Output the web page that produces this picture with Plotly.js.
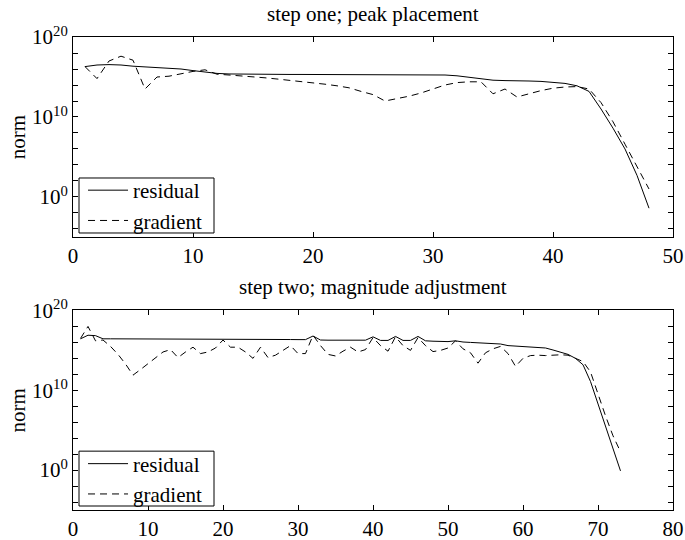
<!DOCTYPE html>
<html>
<head>
<meta charset="utf-8">
<script src="https://cdn.plot.ly/plotly-3.0.1.min.js"></script>
<style>html,body{margin:0;padding:0;background:#fff;}</style>
</head>
<body>
<div id="chart" style="width:685px;height:540px;"></div>
<script>
// ---- data (values are log10 of the norm) ----
const stepOneResidualLog10 = [16.3, 16.5, 16.55, 16.5, 16.35, 16.25, 16.2, 16.1, 16.0, 15.8,
  15.6, 15.45, 15.38, 15.35, 15.33, 15.32, 15.32, 15.32, 15.32, 15.32,
  15.32, 15.32, 15.32, 15.32, 15.32, 15.32, 15.32, 15.32, 15.3, 15.28,
  15.25, 15.15, 14.95, 14.75, 14.6, 14.55, 14.55, 14.5, 14.45, 14.35,
  14.2, 13.9, 13.2, 11.0, 8.6, 6.0, 2.7, -1.4];
const stepOneGradientLog10 = [16.3, 14.8, 17.0, 17.6, 17.1, 13.5, 15.0, 15.1, 15.4, 15.7,
  15.9, 15.35, 15.25, 15.15, 15.05, 14.9, 14.75, 14.6, 14.45, 14.3,
  14.1, 13.9, 13.65, 13.2, 12.8, 12.0, 12.3, 12.6, 13.0, 13.5,
  14.0, 14.3, 14.4, 14.4, 12.9, 13.5, 12.5, 12.9, 13.3, 13.6,
  13.75, 13.8, 13.5, 11.8, 9.4, 6.6, 3.8, 1.0];
const stepTwoResidualLog10 = [16.45, 16.9, 16.85, 16.45, 16.45, 16.45, 16.45, 16.45, 16.45, 16.45,
  16.45, 16.45, 16.42, 16.42, 16.42, 16.42, 16.42, 16.42, 16.42, 16.4,
  16.38, 16.38, 16.38, 16.38, 16.38, 16.37, 16.37, 16.36, 16.36, 16.35,
  16.35, 16.8, 16.3, 16.28, 16.28, 16.28, 16.28, 16.28, 16.28, 16.7,
  16.25, 16.25, 16.75, 16.25, 16.25, 16.75, 16.2, 16.15, 16.13, 16.1,
  16.2, 16.05, 16.0, 15.95, 15.9, 15.85, 15.8, 15.6, 15.55, 15.5,
  15.45, 15.4, 15.3, 15.05, 14.75, 14.5, 14.0, 13.2, 11.1, 8.3,
  5.4, 2.7, -0.1];
const stepTwoGradientLog10 = [16.5, 18.0, 16.2, 16.3, 15.5, 14.5, 13.3, 11.9, 12.6, 13.3,
  14.0, 14.8, 15.1, 14.1, 14.8, 15.4, 14.6, 14.8, 15.3, 16.3,
  15.4, 15.4, 14.8, 14.0, 15.4, 14.1, 14.4, 15.0, 15.6, 14.6,
  14.6, 16.9, 15.6, 14.5, 14.3, 14.9, 15.4, 14.8, 15.1, 16.6,
  15.6, 14.9, 16.7, 15.6, 15.0, 16.6, 15.6, 14.85, 15.0, 15.3,
  16.2, 15.2, 14.7, 13.4, 14.7, 15.2, 15.5, 14.6, 13.0, 14.0,
  14.35, 14.4, 14.35, 14.4, 14.45, 14.4, 14.0, 13.6, 12.3, 9.5,
  6.8, 4.3, 2.3];

const plotTitles = ['step one; peak placement', 'step two; magnitude adjustment'];
const seriesNames = ['residual', 'gradient'];
const yTickExponents = [-4, -2, 0, 2, 4, 6, 8, 10, 12, 14, 16, 18, 20];
const yTickLabels = ['', '', '10<sup>0</sup>', '', '', '', '', '10<sup>10</sup>', '', '', '', '', '10<sup>20</sup>'];
const yRangeExponents = [-5, 20];
const xRanges = [[0, 50], [0, 80]];

// ---- helpers ----
const toNorm = arr => arr.map(v => Math.pow(10, v));
const iterations = arr => arr.map((_, i) => i + 1);

const FONT = 'Liberation Serif, "Times New Roman", Times, serif';
const solid = {color: '#000', width: 1};
const dashed = {color: '#000', width: 1, dash: '7px,5px'};

const traces = [
  {x: iterations(stepOneResidualLog10), y: toNorm(stepOneResidualLog10), name: seriesNames[0],
   type: 'scatter', mode: 'lines', line: solid, xaxis: 'x', yaxis: 'y', legend: 'legend'},
  {x: iterations(stepOneGradientLog10), y: toNorm(stepOneGradientLog10), name: seriesNames[1],
   type: 'scatter', mode: 'lines', line: dashed, xaxis: 'x', yaxis: 'y', legend: 'legend'},
  {x: iterations(stepTwoResidualLog10), y: toNorm(stepTwoResidualLog10), name: seriesNames[0],
   type: 'scatter', mode: 'lines', line: solid, xaxis: 'x2', yaxis: 'y2', legend: 'legend2'},
  {x: iterations(stepTwoGradientLog10), y: toNorm(stepTwoGradientLog10), name: seriesNames[1],
   type: 'scatter', mode: 'lines', line: dashed, xaxis: 'x2', yaxis: 'y2', legend: 'legend2'}
];

function xAxis(range, anchor) {
  return {
    range: range, dtick: 10, tick0: 0, anchor: anchor, domain: [0, 1],
    ticks: 'inside', ticklen: 5, tickcolor: '#000', tickwidth: 1,
    showline: true, linecolor: '#000', linewidth: 1, mirror: 'ticks',
    showgrid: false, zeroline: false,
    tickfont: {family: FONT, size: 21, color: '#000'}
  };
}
function yAxis(domain, anchor) {
  return {
    type: 'log', range: yRangeExponents, domain: domain, anchor: anchor,
    tickmode: 'array', tickvals: yTickExponents.map(e => Math.pow(10, e)), ticktext: yTickLabels,
    ticks: 'inside', ticklen: 5, tickcolor: '#000', tickwidth: 1,
    showline: true, linecolor: '#000', linewidth: 1, mirror: 'ticks',
    showgrid: false, zeroline: false,
    tickfont: {family: FONT, size: 21, color: '#000'},
    title: {text: 'norm', font: {family: FONT, size: 21, color: '#000'}, standoff: 0}
  };
}
function legendBox(y) {
  return {
    x: 0.0167, xanchor: 'left', y: y, yanchor: 'top',
    bgcolor: 'rgba(0,0,0,0)', borderwidth: 0,
    font: {family: FONT, size: 21, color: '#000'},
    tracegroupgap: 0, itemwidth: 40
  };
}
function legendFrame(xref, yref) {
  return {
    type: 'rect', xref: xref, yref: yref, x0: 0.01, x1: 0.235, y0: 0.02, y1: 0.295,
    line: {color: '#000', width: 1}, fillcolor: '#fff', layer: 'above'
  };
}

const topDomain = [0.5772, 1];
const bottomDomain = [0, 0.4218];

const layout = {
  width: 685, height: 540,
  margin: {l: 73, r: 12, t: 37, b: 30},
  paper_bgcolor: '#fff', plot_bgcolor: '#fff',
  font: {family: FONT, size: 21, color: '#000'},
  showlegend: true,
  xaxis: xAxis(xRanges[0], 'y'),
  yaxis: yAxis(topDomain, 'x'),
  xaxis2: xAxis(xRanges[1], 'y2'),
  yaxis2: yAxis(bottomDomain, 'x2'),
  legend: legendBox(0.7188),
  legend2: legendBox(0.1406),
  shapes: [legendFrame('x domain', 'y domain'), legendFrame('x2 domain', 'y2 domain')],
  annotations: [
    {text: plotTitles[0], xref: 'paper', yref: 'paper', x: 0.5, y: topDomain[1],
     xanchor: 'center', yanchor: 'middle', yshift: 23, showarrow: false,
     font: {family: FONT, size: 21, color: '#000'}},
    {text: plotTitles[1], xref: 'paper', yref: 'paper', x: 0.5, y: bottomDomain[1],
     xanchor: 'center', yanchor: 'middle', yshift: 23, showarrow: false,
     font: {family: FONT, size: 21, color: '#000'}}
  ]
};

Plotly.newPlot('chart', traces, layout, {displayModeBar: false, staticPlot: true});
</script>
</body>
</html>
